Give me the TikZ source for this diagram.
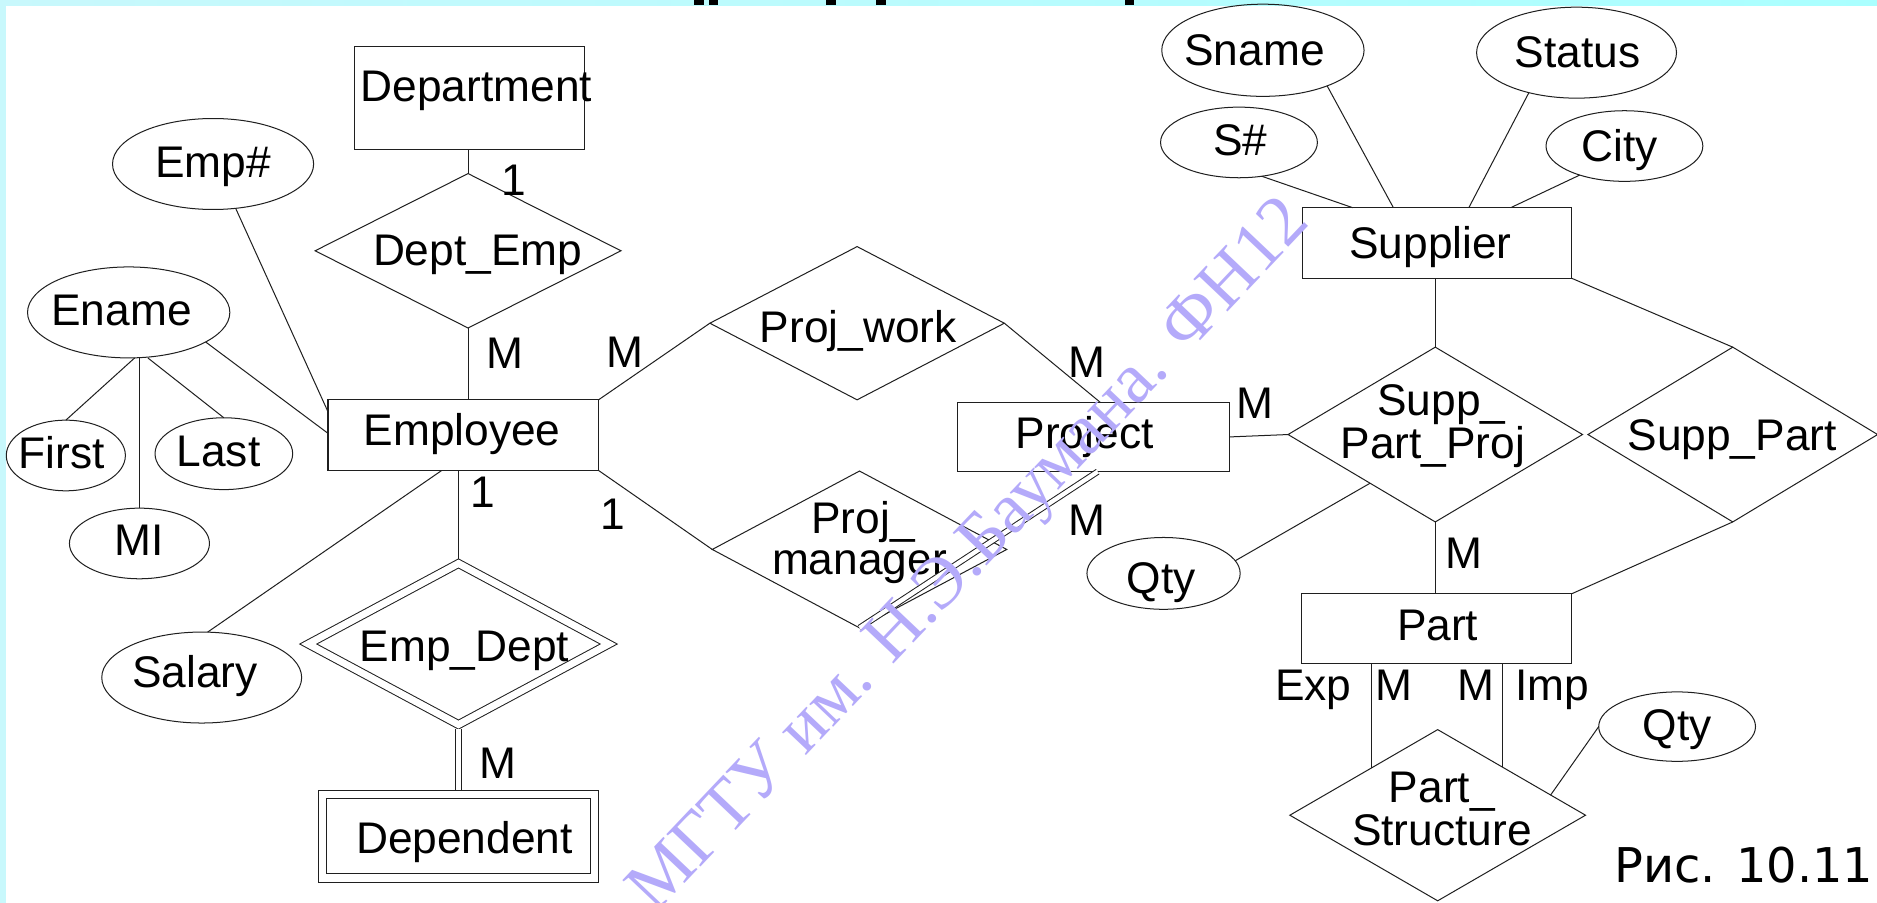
\documentclass[tikz,border=0pt]{standalone}
\usepackage{fontspec}
\setmainfont{Liberation Sans}
\newfontfamily\wmfont{Liberation Serif}
\newfontfamily\capfont{DejaVu Sans}
\usetikzlibrary{shapes.geometric,calc}

\definecolor{edge}{gray}{0.12}
\definecolor{wmcol}{RGB}{180,170,250}
\definecolor{cyanA}{RGB}{200,248,252}
\definecolor{cyanB}{RGB}{170,255,255}

\begin{document}
\begin{tikzpicture}[x=0.5pt,y=-0.5pt,
  every node/.style={inner sep=0pt, outer sep=0pt},
  ent/.style={rectangle, draw=edge, line width=0.42pt},
  attr/.style={ellipse, draw=edge, line width=0.42pt},
  rel/.style={diamond, draw=edge, line width=0.42pt},
  weak/.style={draw=edge, line width=0.42pt, double=white, double distance=#1},
  lbl/.style={anchor=base, font=\fontsize{18.5}{20}\selectfont},
  wire/.style={draw=edge, line width=0.42pt},
  twin/.style={draw=edge, line width=0.42pt, double=white, double distance=1.8pt},
]
\path[use as bounding box] (0,0) rectangle (1568,754);
\fill[white] (0,0) rectangle (1568,754);
\fill[cyanA] (0,0) rectangle (5,754);
\shade[left color=cyanA, right color=cyanB] (0,0) rectangle (1568,4.5);
% descenders of the slide title above the frame
\foreach \a/\b in {580/588, 592/600, 690/698, 732/740, 940/947}
  \fill[black] (\a,0) rectangle (\b,4.5);

% ---------- entities ----------
\node[ent, minimum width=96pt, minimum height=43pt] (dept) at (392,82) {};
\node[ent, minimum width=113pt, minimum height=29.5pt] (emp) at (387,363.5) {};
\node[ent, minimum width=113.5pt, minimum height=29pt] (proj) at (913.5,365) {};
\node[ent, minimum width=112.5pt, minimum height=29.5pt] (supp) at (1200.5,203) {};
\node[ent, minimum width=113pt, minimum height=29pt] (part) at (1200,525) {};
\node[rectangle, weak=3.1pt, minimum width=113.5pt, minimum height=35pt] (dep) at (383,698.5) {};

% ---------- attributes ----------
\node[attr, minimum width=84pt, minimum height=38pt] (empnum) at (178,137) {};
\node[attr, minimum width=84.5pt, minimum height=38pt] (ename) at (107.5,261) {};
\node[attr, minimum width=49.75pt, minimum height=29.5pt] (first) at (55,380.5) {};
\node[attr, minimum width=57.5pt, minimum height=30pt] (last) at (187,379) {};
\node[attr, minimum width=58.5pt, minimum height=29.5pt] (mi) at (116.5,454) {};
\node[attr, minimum width=83.5pt, minimum height=38pt] (salary) at (168.5,566) {};
\node[attr, minimum width=84.5pt, minimum height=38.5pt] (sname) at (1055,42) {};
\node[attr, minimum width=83.5pt, minimum height=38pt] (status) at (1317,44) {};
\node[attr, minimum width=65.5pt, minimum height=29.5pt] (snum) at (1035,119) {};
\node[attr, minimum width=65.5pt, minimum height=29.5pt] (city) at (1357,122) {};
\node[attr, minimum width=64pt, minimum height=30pt] (qtyA) at (972,479) {};
\node[attr, minimum width=65.5pt, minimum height=29pt] (qtyB) at (1401,607) {};

% ---------- relationships ----------
\node[rel, minimum width=127.75pt, minimum height=64.5pt] (deptemp) at (391,209.5) {};
\node[diamond, weak=2.9pt, minimum width=125.5pt, minimum height=67.3pt] (empdept) at (383,538) {};
\node[rel, minimum width=123pt, minimum height=64pt] (projwork) at (716,270) {};
\node[rel, minimum width=123pt, minimum height=65.5pt] (projman) at (718,459) {};
\node[rel, minimum width=123pt, minimum height=73pt] (sppj) at (1199,363) {};
\node[rel, minimum width=121pt, minimum height=73pt] (sppart) at (1447.5,363) {};
\node[rel, minimum width=123.5pt, minimum height=71.5pt] (pstruct) at (1201,681) {};

% ---------- names ----------
\node[lbl] (deptT) at (398,85) {Department};
\node[lbl] (empT) at (386,372) {Employee};
\node[lbl] (projT) at (906,375) {Project};
\node[lbl] (suppT) at (1195,216) {Supplier};
\node[lbl] (partT) at (1201,535) {Part};
\node[lbl] (depT) at (388,713) {Dependent};
\node[lbl] (empnumT) at (178,148) {Emp\#};
\node[lbl] (enameT) at (101.5,272) {Ename};
\node[lbl] (firstT) at (51.5,391.6) {First};
\node[lbl] (lastT) at (182.5,390) {Last};
\node[lbl] (miT) at (116.4,464) {MI};
\node[lbl] (salaryT) at (163,574) {Salary};
\node[lbl] (snameT) at (1048,55) {Sname};
\node[lbl] (statusT) at (1318,56) {Status};
\node[lbl] (snumT) at (1036,130) {S\#};
\node[lbl] (cityT) at (1353,135) {City};
\node[lbl] (qtyAT) at (970,496) {Qty};
\node[lbl] (qtyBT) at (1401,619) {Qty};
\node[lbl] (deptempT) at (399,222) {Dept\_Emp};
\node[lbl] (empdeptT) at (388,553) {Emp\_Dept};
\node[lbl] (projworkT) at (717,286) {Proj\_work};
\node[lbl] (projmanA) at (721,446) {Proj\_};
\node[lbl] (projmanB) at (718,480) {manager};
\node[lbl] (sppjA) at (1204,347) {Supp\_};
\node[lbl] (sppjB) at (1197,383) {Part\_Proj};
\node[lbl] (sppartT) at (1447,376) {Supp\_Part};
\node[lbl] (pstructA) at (1204.5,670) {Part\_};
\node[lbl] (pstructB) at (1204.5,706) {Structure};

% ---------- cardinalities ----------
\node[lbl] (c1) at (429,163) {1};
\node[lbl] (c2) at (421.5,308) {M};
\node[lbl] (c3) at (522,307) {M};
\node[lbl] (c4) at (908,315) {M};
\node[lbl] (c5) at (1048,350) {M};
\node[lbl] (c6) at (908,447) {M};
\node[lbl] (c7) at (512,442) {1};
\node[lbl] (c8) at (403,424) {1};
\node[lbl] (c9) at (416,650) {M};
\node[lbl] (c10) at (1223,475) {M};
\node[lbl] (c11) at (1097,585) {Exp};
\node[lbl] (c12) at (1164.5,585) {M};
\node[lbl] (c13) at (1233,585) {M};
\node[lbl] (c14) at (1296.5,585) {Imp};

% ---------- connectors ----------
\draw[wire] (deptemp.north |- dept.south) -- (deptemp.north);
\draw[wire] (deptemp.south) -- (deptemp.south |- emp.north);
\draw[wire] (empnum.-63) -- ([yshift=-5pt]emp.north west);
\draw[wire] (ename.-21) -- ([yshift=-14pt]emp.north west);
\coordinate (enb) at (mi.north |- ename.south);
\draw[wire] (enb) -- (mi.north);
\draw[wire] ([xshift=-2pt]enb) -- (first.north);
\draw[wire] ([xshift=3.5pt]enb) -- (last.north);
\draw[wire] ([xshift=-9pt]emp.south) -- ([xshift=2.5pt]salary.north);
\draw[wire] ([yshift=1.9pt]empdept.north) -- (empdept.north |- emp.south);
\draw[twin] ([yshift=-1.9pt]empdept.south) -- ([yshift=1.75pt]empdept.south |- dep.north);
\draw[wire] (emp.north east) -- (projwork.west);
\draw[wire] (projwork.east) -- ([xshift=2.75pt]proj.north);
\draw[wire] (emp.south east) -- (projman.west);
\draw[twin] (projman.south) -- ([xshift=1.75pt]proj.south);
\draw[wire] (proj.east) -- (sppj.west);
\draw[wire] (sppj.north |- supp.south) -- (sppj.north);
\draw[wire] (supp.south east) -- (sppart.north);
\draw[wire] (snum.-56) -- ([xshift=-35.25pt]supp.north);
\draw[wire] (sname.-29) -- ([xshift=-18.25pt]supp.north);
\draw[wire] (status.-140) -- ([xshift=13.25pt]supp.north);
\draw[wire] (city.-147) -- ([xshift=30.75pt]supp.north);
\draw[wire] (sppj.south) -- (sppj.south |- part.north);
\draw[wire] (sppart.south) -- (part.north east);
\draw[wire] (qtyA.10) -- ($(sppj.west)!0.557!(sppj.south)$);
\coordinate (psL) at ($(pstruct.west)!0.555!(pstruct.north)$);
\coordinate (psR) at ($(pstruct.north)!0.437!(pstruct.east)$);
\draw[wire] (psL |- part.south) -- (psL);
\draw[wire] (psR |- part.south) -- (psR);
\draw[wire] (qtyB.west) -- ($(pstruct.north)!0.764!(pstruct.east)$);

% ---------- caption and watermark ----------
\node[anchor=base east, font=\capfont\fontsize{20}{22}\selectfont] (fig) at (1565,737) {Рис. 10.11};
\node[rotate=46.5, text=wmcol, font=\wmfont\fontsize{30}{32}\selectfont] (wm) at (812,466) {МГТУ им. Н.Э.Баумана. ФН12};
\end{tikzpicture}
\end{document}
